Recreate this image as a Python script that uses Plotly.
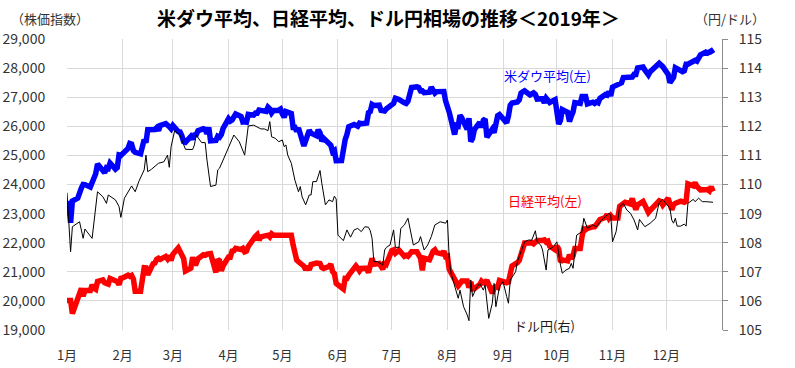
import plotly.graph_objects as go

# ---------------- data ----------------
month_ticks = ["2019-01-01", "2019-02-01", "2019-03-01", "2019-04-01", "2019-05-01", "2019-06-01",
               "2019-07-01", "2019-08-01", "2019-09-01", "2019-10-01", "2019-11-01", "2019-12-01"]
month_labels = ["1月", "2月", "3月", "4月", "5月", "6月", "7月", "8月", "9月", "10月", "11月", "12月"]

dow_dates = [
    "01-01", "01-02", "01-03", "01-04", "01-07", "01-08", "01-09", "01-10", "01-11", "01-14", "01-15", "01-16",
    "01-17", "01-18", "01-22", "01-23", "01-24", "01-25", "01-28", "01-29", "01-30", "01-31",
    "02-01", "02-04", "02-05", "02-06", "02-07", "02-08", "02-11", "02-12", "02-13", "02-14", "02-15", "02-19",
    "02-20", "02-21", "02-22", "02-25", "02-26", "02-27", "02-28",
    "03-01", "03-04", "03-05", "03-06", "03-07", "03-08", "03-11", "03-12", "03-13", "03-14", "03-15", "03-18",
    "03-19", "03-20", "03-21", "03-22", "03-25", "03-26", "03-27", "03-28", "03-29",
    "04-01", "04-02", "04-03", "04-04", "04-05", "04-08", "04-09", "04-10", "04-11", "04-12", "04-15", "04-16",
    "04-17", "04-18", "04-22", "04-23", "04-24", "04-25", "04-26", "04-29", "04-30",
    "05-01", "05-02", "05-03", "05-06", "05-07", "05-08", "05-09", "05-10", "05-13", "05-14", "05-15", "05-16",
    "05-17", "05-20", "05-21", "05-22", "05-23", "05-24", "05-28", "05-29", "05-30", "05-31",
    "06-03", "06-04", "06-05", "06-06", "06-07", "06-10", "06-11", "06-12", "06-13", "06-14", "06-17", "06-18",
    "06-19", "06-20", "06-21", "06-24", "06-25", "06-26", "06-27", "06-28",
    "07-01", "07-02", "07-03", "07-05", "07-08", "07-09", "07-10", "07-11", "07-12", "07-15", "07-16", "07-17",
    "07-18", "07-19", "07-22", "07-23", "07-24", "07-25", "07-26", "07-29", "07-30", "07-31",
    "08-01", "08-02", "08-05", "08-06", "08-07", "08-08", "08-09", "08-12", "08-13", "08-14", "08-15", "08-16",
    "08-19", "08-20", "08-21", "08-22", "08-23", "08-26", "08-27", "08-28", "08-29", "08-30",
    "09-03", "09-04", "09-05", "09-06", "09-09", "09-10", "09-11", "09-12", "09-13", "09-16", "09-17", "09-18",
    "09-19", "09-20", "09-23", "09-24", "09-25", "09-26", "09-27", "09-30",
    "10-01", "10-02", "10-03", "10-04", "10-07", "10-08", "10-09", "10-10", "10-11", "10-14", "10-15", "10-16",
    "10-17", "10-18", "10-21", "10-22", "10-23", "10-24", "10-25", "10-28", "10-29", "10-30", "10-31",
    "11-01", "11-04", "11-05", "11-06", "11-07", "11-08", "11-11", "11-12", "11-13", "11-14", "11-15", "11-18",
    "11-19", "11-20", "11-21", "11-22", "11-25", "11-26", "11-27", "11-29",
    "12-02", "12-03", "12-04", "12-05", "12-06", "12-09", "12-10", "12-11", "12-12", "12-13", "12-16", "12-17",
    "12-18", "12-19", "12-20", "12-23", "12-24", "12-26", "12-27",
]
dow_values = [
    23327, 23346, 22686, 23433, 23531, 23787, 23879, 24001, 23996, 23910, 24066, 24207,
    24370, 24706, 24404, 24575, 24553, 24737, 24528, 24579, 25014, 24999,
    25063, 25239, 25411, 25390, 25169, 25106, 25053, 25425, 25543, 25439, 25883, 25891,
    25954, 25850, 26031, 26091, 26057, 25985, 25916,
    26026, 25819, 25806, 25673, 25473, 25450, 25650, 25555, 25702, 25709, 25849, 25914,
    25887, 25745, 25962, 25502, 25516, 25658, 25626, 25717, 25929,
    26258, 26179, 26218, 26385, 26425, 26341, 26150, 26157, 26143, 26412, 26384, 26452,
    26449, 26559, 26511, 26656, 26597, 26462, 26543, 26554, 26593,
    26430, 26307, 26505, 26438, 25965, 25967, 25828, 25942, 25324, 25532, 25648, 25862,
    25764, 25679, 25877, 25776, 25490, 25585, 25347, 25126, 25169, 24815,
    24819, 25332, 25539, 25720, 25984, 26062, 26048, 26004, 26106, 26090, 26112, 26465,
    26504, 26753, 26719, 26727, 26548, 26536, 26526, 26600,
    26717, 26787, 26966, 26922, 26806, 26783, 26860, 27088, 27332, 27359, 27335, 27219,
    27223, 27154, 27171, 27349, 27270, 27140, 27192, 27221, 27198, 26864,
    26583, 26485, 25718, 26030, 26008, 26378, 26287, 25897, 26280, 25480, 25579, 25886,
    26135, 25962, 26202, 26252, 25628, 25899, 25778, 26036, 26362, 26403,
    26118, 26355, 26728, 26797, 26836, 26909, 27137, 27182, 27220, 27076, 27111, 27147,
    27095, 26935, 26950, 26808, 26970, 26892, 26820, 26917,
    26573, 26079, 26202, 26573, 26478, 26165, 26347, 26497, 26817, 26787, 27025, 27001,
    27026, 26770, 26828, 26788, 26834, 26806, 26959, 27091, 27071, 27186, 27046,
    27347, 27462, 27492, 27492, 27675, 27681, 27691, 27691, 27784, 27782, 28005, 28036,
    27934, 27821, 27766, 27876, 28066, 28121, 28164, 28051,
    27783, 27502, 27649, 27677, 28015, 27909, 27881, 27911, 28132, 28135, 28235, 28267,
    28239, 28377, 28455, 28551, 28515, 28590, 28500,
]

nikkei_dates = [
    "01-01", "01-02", "01-03", "01-04", "01-07", "01-08", "01-09", "01-10", "01-11", "01-14", "01-15", "01-16",
    "01-17", "01-18", "01-21", "01-22", "01-23", "01-24", "01-25", "01-28", "01-29", "01-30", "01-31",
    "02-01", "02-04", "02-05", "02-06", "02-07", "02-08", "02-11", "02-12", "02-13", "02-14", "02-15", "02-18",
    "02-19", "02-20", "02-21", "02-22", "02-25", "02-26", "02-27", "02-28",
    "03-01", "03-04", "03-05", "03-06", "03-07", "03-08", "03-11", "03-12", "03-13", "03-14", "03-15", "03-18",
    "03-19", "03-20", "03-21", "03-22", "03-25", "03-26", "03-27", "03-28", "03-29",
    "04-01", "04-02", "04-03", "04-04", "04-05", "04-08", "04-09", "04-10", "04-11", "04-12", "04-15", "04-16",
    "04-17", "04-18", "04-19", "04-22", "04-23", "04-24", "04-25", "04-26", "04-29", "04-30",
    "05-01", "05-02", "05-03", "05-06", "05-07", "05-08", "05-09", "05-10", "05-13", "05-14", "05-15", "05-16",
    "05-17", "05-20", "05-21", "05-22", "05-23", "05-24", "05-27", "05-28", "05-29", "05-30", "05-31",
    "06-03", "06-04", "06-05", "06-06", "06-07", "06-10", "06-11", "06-12", "06-13", "06-14", "06-17", "06-18",
    "06-19", "06-20", "06-21", "06-24", "06-25", "06-26", "06-27", "06-28",
    "07-01", "07-02", "07-03", "07-04", "07-05", "07-08", "07-09", "07-10", "07-11", "07-12", "07-15", "07-16",
    "07-17", "07-18", "07-19", "07-22", "07-23", "07-24", "07-25", "07-26", "07-29", "07-30", "07-31",
    "08-01", "08-02", "08-05", "08-06", "08-07", "08-08", "08-09", "08-12", "08-13", "08-14", "08-15", "08-16",
    "08-19", "08-20", "08-21", "08-22", "08-23", "08-26", "08-27", "08-28", "08-29", "08-30",
    "09-02", "09-03", "09-04", "09-05", "09-06", "09-09", "09-10", "09-11", "09-12", "09-13", "09-16", "09-17",
    "09-18", "09-19", "09-20", "09-23", "09-24", "09-25", "09-26", "09-27", "09-30",
    "10-01", "10-02", "10-03", "10-04", "10-07", "10-08", "10-09", "10-10", "10-11", "10-14", "10-15", "10-16",
    "10-17", "10-18", "10-21", "10-22", "10-23", "10-24", "10-25", "10-28", "10-29", "10-30", "10-31",
    "11-01", "11-04", "11-05", "11-06", "11-07", "11-08", "11-11", "11-12", "11-13", "11-14", "11-15", "11-18",
    "11-19", "11-20", "11-21", "11-22", "11-25", "11-26", "11-27", "11-28", "11-29",
    "12-02", "12-03", "12-04", "12-05", "12-06", "12-09", "12-10", "12-11", "12-12", "12-13", "12-16", "12-17",
    "12-18", "12-19", "12-20", "12-23", "12-24", "12-25", "12-26", "12-27",
]
nikkei_values = [
    20015, 20015, 20015, 19561, 20038, 20204, 20427, 20163, 20359, 20359, 20555, 20442,
    20402, 20666, 20719, 20622, 20593, 20574, 20773, 20649, 20664, 20556, 20773,
    20788, 20883, 20844, 20874, 20751, 20333, 20333, 20864, 21144, 21139, 20900, 21281,
    21302, 21431, 21464, 21425, 21528, 21449, 21556, 21385,
    21602, 21822, 21726, 21596, 21456, 21025, 21125, 21503, 21290, 21287, 21451, 21584,
    21566, 21608, 21608, 21627, 20977, 21428, 21378, 21033, 21206,
    21509, 21505, 21713, 21724, 21807, 21761, 21802, 21687, 21711, 21870, 22169, 22221,
    22277, 22090, 22200, 22218, 22259, 22200, 22307, 22258, 22258, 22258,
    22258, 22258, 22258, 22258, 21923, 21602, 21402, 21344, 21191, 21067, 21188, 21062,
    21250, 21301, 21272, 21283, 21151, 21117, 21182, 21260, 21003, 20942, 20601,
    20410, 20408, 20776, 20774, 20884, 21134, 21204, 21129, 21032, 21116, 21124, 20972,
    21333, 21462, 21258, 21285, 21193, 21086, 21338, 21275,
    21729, 21754, 21638, 21702, 21746, 21534, 21565, 21533, 21643, 21685, 21685, 21535,
    21469, 21046, 21466, 21416, 21620, 21709, 21756, 21658, 21616, 21709, 21521,
    21540, 21087, 20720, 20585, 20516, 20593, 20684, 20684, 20455, 20655, 20405, 20418,
    20563, 20677, 20618, 20628, 20710, 20261, 20456, 20479, 20460, 20704,
    20620, 20625, 20649, 21085, 21199, 21318, 21392, 21597, 21759, 21988, 21988, 22001,
    21960, 22044, 22079, 22079, 22098, 22020, 22048, 21878, 21756,
    21885, 21778, 21341, 21410, 21375, 21587, 21456, 21551, 21798, 21798, 22207, 22472,
    22451, 22492, 22548, 22548, 22625, 22750, 22799, 22867, 22974, 22843, 22927,
    22850, 22850, 23251, 23303, 23330, 23391, 23331, 23520, 23319, 23141, 23303, 23416,
    23292, 23148, 23038, 23112, 23292, 23373, 23437, 23409, 23293,
    23529, 23379, 23135, 23300, 23354, 23430, 23410, 23391, 23424, 24023, 23952, 24066,
    23934, 23864, 23816, 23821, 23830, 23782, 23924, 23760,
]

usdjpy_dates = [
    "01-01", "01-03", "01-04", "01-08", "01-10", "01-11", "01-15", "01-17", "01-18", "01-21", "01-23", "01-24",
    "01-28", "01-30", "01-31", "02-02", "02-06", "02-08", "02-10", "02-13", "02-14", "02-15", "02-17", "02-21",
    "02-24", "02-26", "02-27", "02-28", "03-02", "03-05", "03-06", "03-08", "03-12", "03-13", "03-14", "03-17",
    "03-19", "03-20", "03-22", "03-25", "03-26", "03-27", "03-29", "04-01", "04-04", "04-07", "04-10", "04-12",
    "04-15", "04-19", "04-21", "04-23", "04-24", "04-25", "04-27", "04-29", "05-01", "05-02", "05-03", "05-04",
    "05-06", "05-08", "05-10", "05-11", "05-12", "05-14", "05-16", "05-17", "05-18", "05-20", "05-22", "05-23",
    "05-25", "05-27", "05-29", "05-30", "05-31", "06-01", "06-04", "06-06", "06-08", "06-10", "06-12", "06-14",
    "06-16", "06-18", "06-19", "06-20", "06-21", "06-23", "06-26", "06-27", "06-28", "06-30", "07-02", "07-03",
    "07-05", "07-06", "07-08", "07-10", "07-11", "07-13", "07-16", "07-17", "07-19", "07-21", "07-23", "07-25",
    "07-28", "07-31", "08-01", "08-02", "08-03", "08-05", "08-07", "08-08", "08-10", "08-12", "08-13", "08-14",
    "08-15", "08-17", "08-19", "08-21", "08-22", "08-24", "08-26", "08-27", "08-28", "08-30", "09-01", "09-03",
    "09-04", "09-05", "09-08", "09-09", "09-13", "09-15", "09-17", "09-19", "09-20", "09-22", "09-23", "09-25",
    "09-26", "09-29", "10-01", "10-03", "10-04", "10-06", "10-08", "10-09", "10-10", "10-12", "10-15", "10-16",
    "10-18", "10-21", "10-23", "10-26", "10-28", "10-30", "10-31", "11-01", "11-03", "11-05", "11-07", "11-09",
    "11-11", "11-13", "11-15", "11-16", "11-19", "11-22", "11-25", "11-27", "11-29", "12-01", "12-03", "12-04",
    "12-05", "12-06", "12-07", "12-09", "12-11", "12-12", "12-13", "12-16", "12-17", "12-19", "12-21", "12-23",
    "12-27",
]
usdjpy_values = [
    109.72, 107.69, 108.55, 108.72, 108.15, 108.47, 108.15, 109.12, 109.75, 109.58, 109.35, 109.64,
    109.47, 109.24, 108.87, 109.53, 109.95, 109.75, 110.10, 110.50, 111.01, 110.44, 110.52, 110.73,
    110.78, 111.01, 110.59, 111.30, 111.85, 111.70, 111.55, 111.21, 111.20, 111.36, 111.70, 111.44,
    111.44, 110.84, 109.93, 109.98, 110.50, 110.56, 110.84, 111.30, 111.70, 111.47, 111.01, 112.01,
    112.04, 111.91, 111.91, 111.85, 112.16, 111.64, 111.59, 111.47, 111.53, 111.30, 111.36, 111.01,
    110.73, 110.15, 109.75, 109.93, 109.58, 109.30, 109.64, 109.64, 110.10, 110.10, 110.48, 110.04,
    109.30, 109.47, 109.41, 109.60, 109.50, 108.26, 108.07, 108.44, 108.19, 108.44, 108.49, 108.38,
    108.55, 108.53, 108.41, 108.15, 107.35, 107.35, 107.23, 107.75, 107.84, 107.92, 108.44, 107.84,
    107.84, 108.49, 108.61, 108.84, 108.49, 107.92, 108.03, 108.21, 107.75, 107.92, 108.21, 108.61,
    108.72, 108.67, 108.78, 107.46, 106.95, 106.55, 106.09, 106.37, 105.80, 105.52, 105.32, 106.72,
    106.15, 106.43, 106.60, 106.37, 106.55, 105.40, 105.92, 106.60, 105.80, 106.49, 106.66, 106.15,
    105.92, 106.72, 107.00, 107.35, 108.03, 108.09, 108.09, 108.41, 108.03, 107.92, 107.75, 107.06,
    107.75, 107.86, 108.03, 107.23, 106.95, 107.06, 107.12, 107.29, 107.12, 108.26, 108.38, 108.84,
    108.49, 108.61, 108.55, 108.78, 108.90, 109.01, 108.95, 108.03, 108.38, 109.24, 109.35, 109.12,
    109.01, 108.78, 108.44, 108.80, 108.55, 108.67, 108.84, 109.38, 109.49, 109.35, 109.18, 108.78,
    108.67, 108.84, 108.57, 108.57, 108.64, 108.57, 109.35, 109.49, 109.41, 109.53, 109.41, 109.41,
    109.39,
]

year = "2019-"
title_text = "米ダウ平均、日経平均、ドル円相場の推移＜2019年＞"
left_axis_title = "（株価指数）"
right_axis_title = "（円/ドル）"
label_dow = "米ダウ平均(左)"
label_nikkei = "日経平均(左)"
label_usdjpy = "ドル円(右)"

# ---------------- figure ----------------
FONT = "Noto Sans CJK JP, Meiryo, sans-serif"
GRID = "#d9d9d9"
TXT = "#333333"

fig = go.Figure()
fig.add_trace(go.Scatter(x=[year + d for d in dow_dates], y=dow_values, mode="lines",
                         line=dict(color="#0000ff", width=5.5), name=label_dow))
fig.add_trace(go.Scatter(x=[year + d for d in nikkei_dates], y=nikkei_values, mode="lines",
                         line=dict(color="#ff0000", width=5.5), name=label_nikkei))
fig.add_trace(go.Scatter(x=[year + d for d in usdjpy_dates], y=usdjpy_values, mode="lines",
                         line=dict(color="#000000", width=1), name=label_usdjpy, yaxis="y2"))

fig.update_layout(
    width=795, height=368,
    margin=dict(l=67, r=73, t=39, b=38, autoexpand=False),
    paper_bgcolor="white", plot_bgcolor="white",
    showlegend=False,
    font=dict(family=FONT, size=13, color=TXT),
    xaxis=dict(type="date", range=["2019-01-01", "2020-01-01"], automargin=False,
               tickmode="array", tickvals=month_ticks, ticktext=month_labels,
               showgrid=True, gridcolor=GRID, gridwidth=1,
               ticks="outside", ticklen=13, tickcolor="rgba(0,0,0,0)",
               showline=False, zeroline=False,
               tickfont=dict(family=FONT, size=13, color=TXT)),
    yaxis=dict(range=[19000, 29000], dtick=1000, tickformat=",d", automargin=False,
               showgrid=True, gridcolor=GRID, gridwidth=1,
               ticks="outside", ticklen=18, tickcolor="rgba(0,0,0,0)",
               showline=False, zeroline=False,
               tickfont=dict(family=FONT, size=14, color=TXT)),
    yaxis2=dict(range=[105, 115], dtick=1, overlaying="y", side="right", automargin=False,
                showgrid=False, zeroline=False,
                showline=True, linecolor="#8c8c8c", linewidth=1,
                ticks="outside", ticklen=5, tickcolor="#8c8c8c",
                ticklabelstandoff=8,
                tickfont=dict(family=FONT, size=14, color=TXT)),
)

fig.add_annotation(text="<b>" + title_text + "</b>", xref="paper", yref="paper",
                   x=(388 - 67) / 655, y=(330 - 17) / 291, xanchor="center", yanchor="middle",
                   showarrow=False, font=dict(family=FONT, size=19, color="#000000"))
fig.add_annotation(text=left_axis_title, xref="paper", yref="paper",
                   x=(50 - 67) / 655, y=(330 - 18) / 291, xanchor="center", yanchor="middle",
                   showarrow=False, font=dict(family=FONT, size=13, color=TXT))
fig.add_annotation(text=right_axis_title, xref="paper", yref="paper",
                   x=(730 - 67) / 655, y=(330 - 18) / 291, xanchor="center", yanchor="middle",
                   showarrow=False, font=dict(family=FONT, size=13, color=TXT))
fig.add_annotation(text=label_dow, xref="paper", yref="paper",
                   x=(547 - 67) / 655, y=(330 - 75) / 291, xanchor="center", yanchor="middle",
                   showarrow=False, font=dict(family=FONT, size=13, color="#0000ff"))
fig.add_annotation(text=label_nikkei, xref="paper", yref="paper",
                   x=(545 - 67) / 655, y=(330 - 200) / 291, xanchor="center", yanchor="middle",
                   showarrow=False, font=dict(family=FONT, size=13, color="#ff0000"))
fig.add_annotation(text=label_usdjpy, xref="paper", yref="paper",
                   x=(544 - 67) / 655, y=(330 - 325) / 291, xanchor="center", yanchor="middle",
                   showarrow=False, font=dict(family=FONT, size=13, color="#1a1a1a"))

# remove the browser's default 8px page margin so the 795x368 figure fills the window exactly
fig.write_html("out.html", config={"displayModeBar": False},
               post_script="document.body.style.margin='0';")
